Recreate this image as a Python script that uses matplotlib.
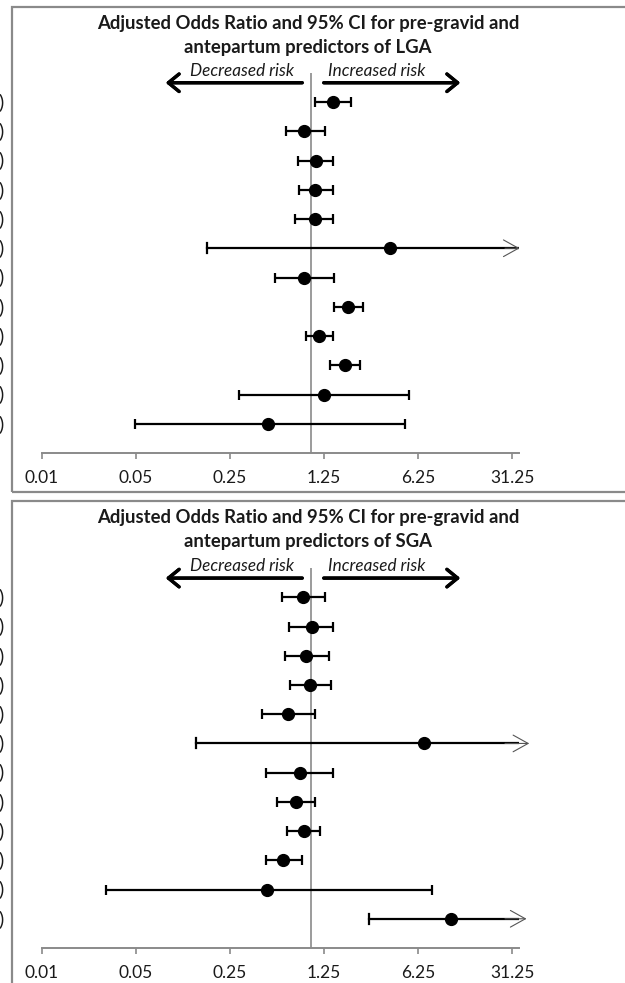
import matplotlib.pyplot as plt
from matplotlib.patches import Rectangle

# figure is laid out in pixels of the 625x983 reference
W, H = 625, 983

def fx(px):
    return px / W

def fy(py):
    return 1 - py / H

plt.rcParams['font.family'] = ['Lato', 'DejaVu Sans']

# ---------------------------------------------------------------- data
tick_vals = [0.01, 0.05, 0.25, 1.25, 6.25, 31.25]
tick_labels = ["0.01", "0.05", "0.25", "1.25", "6.25", "31.25"]

# LGA panel: adjusted odds ratio, lower and upper 95% CI (upper = arrow tip if truncated)
lga_or = [1.45, 0.89, 1.09, 1.08, 1.08, 3.87, 0.89, 1.90, 1.15, 1.79, 1.26, 0.48]
lga_lo = [1.08, 0.65, 0.80, 0.82, 0.76, 0.17, 0.54, 1.49, 0.92, 1.39, 0.29, 0.049]
lga_hi = [2.00, 1.28, 1.45, 1.45, 1.45, 37.3, 1.49, 2.42, 1.45, 2.31, 5.38, 5.03]
lga_trunc = [False, False, False, False, False, True, False, False, False, False, False, False]

# SGA panel
sga_or = [0.87, 1.01, 0.92, 0.98, 0.67, 6.96, 0.83, 0.77, 0.88, 0.62, 0.47, 10.9]
sga_lo = [0.61, 0.69, 0.64, 0.70, 0.43, 0.14, 0.46, 0.56, 0.66, 0.46, 0.030, 2.71]
sga_hi = [1.28, 1.47, 1.35, 1.42, 1.07, 44.0, 1.47, 1.08, 1.17, 0.85, 8.0, 42.0]
sga_trunc = [False, False, False, False, False, True, False, False, False, False, False, True]

XMAX = 35.2
GREY = '#8a8a8a'
TXT = '#1a1a1a'

fig = plt.figure(figsize=(W / 100, H / 100), dpi=100)


def panel(top_px, axis_px, frame_top, frame_bot, outcome, ors, los, his, trunc):
    # chart area frame (runs off the right edge, like the cropped original)
    fig.patches.append(Rectangle((fx(12), fy(frame_bot)), fx(700), fy(frame_top) - fy(frame_bot),
                                 transform=fig.transFigure, fill=False, ec=GREY, lw=1.6))

    ax = fig.add_axes([fx(42), fy(axis_px), fx(519) - fx(42), fy(top_px) - fy(axis_px)])
    ax.set_xscale('log', base=5)
    ax.set_xlim(0.01, XMAX)
    ax.set_ylim(13, 0)
    ax.patch.set_alpha(0)
    for s in ['top', 'left', 'right']:
        ax.spines[s].set_visible(False)
    ax.spines['bottom'].set_color(GREY)
    ax.spines['bottom'].set_linewidth(1.4)
    ax.set_yticks([])
    ax.set_xticks(tick_vals)
    ax.set_xticklabels(tick_labels)
    ax.minorticks_off()
    ax.tick_params(axis='x', direction='out', length=4, width=1.2, color=GREY,
                   pad=8, labelsize=12.5, labelcolor=TXT)

    ax.axvline(1, color=GREY, lw=1.2, zorder=1)

    rows = list(range(1, len(ors) + 1))
    for r, v, lo, hi, t in zip(rows, ors, los, his, trunc):
        if t:
            ax.plot([lo, XMAX], [r, r], color='black', lw=1.6, zorder=2)
            ax.plot([lo, lo], [r - 0.17, r + 0.17], color='black', lw=1.6, zorder=2)
            ax.annotate('', xy=(hi, r), xytext=(XMAX * 0.75, r),
                        arrowprops=dict(arrowstyle='->,head_length=0.9,head_width=0.5',
                                        color='#555555', lw=0.8, mutation_scale=12),
                        annotation_clip=False)
            ax.plot([v], [r], 'o', color='black', ms=8.5, zorder=3)
        else:
            ax.errorbar(v, r, xerr=[[v - lo], [hi - v]], fmt='o', color='black', ms=8.5,
                        elinewidth=1.6, capsize=3.6, capthick=1.6, zorder=2)

    # cut-off row labels on the far left
    for r in rows:
        yp = axis_px - (13 - r) * (axis_px - top_px) / 13
        fig.text(fx(3.5), fy(yp), ')', ha='right', va='center', fontsize=14, color=TXT)

    # title
    fig.text(fx(308), fy(frame_top + 16), 'Adjusted Odds Ratio and 95% CI for pre-gravid and',
             ha='center', va='center', fontsize=13.3, fontweight='bold', color=TXT)
    fig.text(fx(308), fy(frame_top + 40), 'antepartum predictors of ' + outcome,
             ha='center', va='center', fontsize=13.3, fontweight='bold', color=TXT)

    # risk direction arrows
    ya = top_px + 10
    fig.text(fx(242), fy(ya - 12), 'Decreased risk', ha='center', va='center',
             fontsize=12.3, style='italic', color=TXT)
    fig.text(fx(377), fy(ya - 12), 'Increased risk', ha='center', va='center',
             fontsize=12.3, style='italic', color=TXT)
    for x0, x1 in [(305, 163), (321, 463)]:
        fig.add_artist(plt.annotate('', xy=(fx(x1), fy(ya)), xytext=(fx(x0), fy(ya)),
                                    xycoords='figure fraction', textcoords='figure fraction',
                                    arrowprops=dict(arrowstyle='->,head_length=0.55,head_width=0.45',
                                                    color='black', lw=2.4, mutation_scale=14)))
    return ax


panel(72.75, 453, 7, 492, 'LGA', lga_or, lga_lo, lga_hi, lga_trunc)
panel(568.1, 948, 501, 1100, 'SGA', sga_or, sga_lo, sga_hi, sga_trunc)

plt.savefig('out.png', dpi=100)
